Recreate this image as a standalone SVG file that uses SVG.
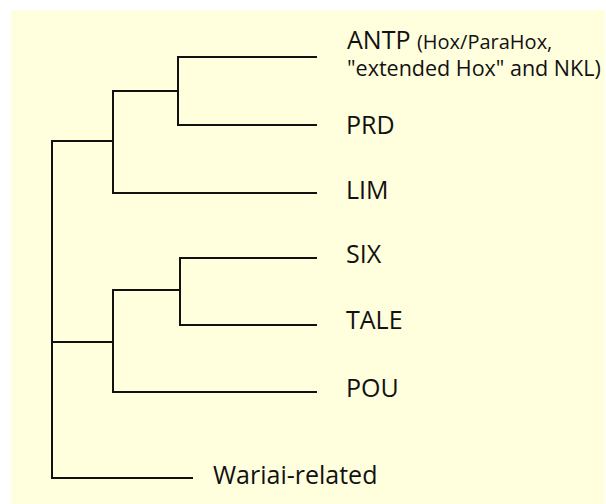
<svg xmlns="http://www.w3.org/2000/svg" width="606" height="504" viewBox="0 0 606 504">
  <style>
    .branch { fill: none; stroke: #111; stroke-width: 2; stroke-linecap: square; stroke-linejoin: miter; }
    .label { font-family: "Open Sans", "Noto Sans", "Liberation Sans", sans-serif; font-size: 25px; fill: #111; }
    .small { font-size: 20px; }
    .note { font-size: 21.5px; }
  </style>
  <rect x="0" y="0" width="606" height="504" fill="#ffffff"/>
  <rect x="11" y="10" width="594" height="494" fill="#ffffdd"/>

  <!-- tree branches (cladogram) -->
  <g id="connectors">
    <!-- ANTP + PRD clade -->
    <path class="branch" d="M316 57 H178 V125 H316"/>
    <!-- (ANTP, PRD) + LIM -->
    <path class="branch" d="M178 91 H113 V193 H316"/>
    <!-- SIX + TALE clade -->
    <path class="branch" d="M316 258 H180 V325 H316"/>
    <!-- (SIX, TALE) + POU -->
    <path class="branch" d="M180 290 H113 V392 H316"/>
    <!-- root joining the two groups and Wariai-related -->
    <path class="branch" d="M113 141 H52 V478 H192"/>
    <path class="branch" d="M52 342 H113"/>
  </g>

  <g id="node-antp">
    <text class="label" x="347" y="48.5">ANTP <tspan class="small">(Hox/ParaHox,</tspan><tspan class="note" x="347" y="75.5">"extended Hox" and NKL)</tspan></text>
  </g>
  <g id="node-prd"><text class="label" x="346" y="133.5">PRD</text></g>
  <g id="node-lim"><text class="label" x="346" y="199">LIM</text></g>
  <g id="node-six"><text class="label" x="346" y="262.5">SIX</text></g>
  <g id="node-tale"><text class="label" x="346" y="329">TALE</text></g>
  <g id="node-pou"><text class="label" x="346" y="396.5">POU</text></g>
  <g id="node-wariai"><text class="label" x="213" y="484">Wariai-related</text></g>
</svg>
